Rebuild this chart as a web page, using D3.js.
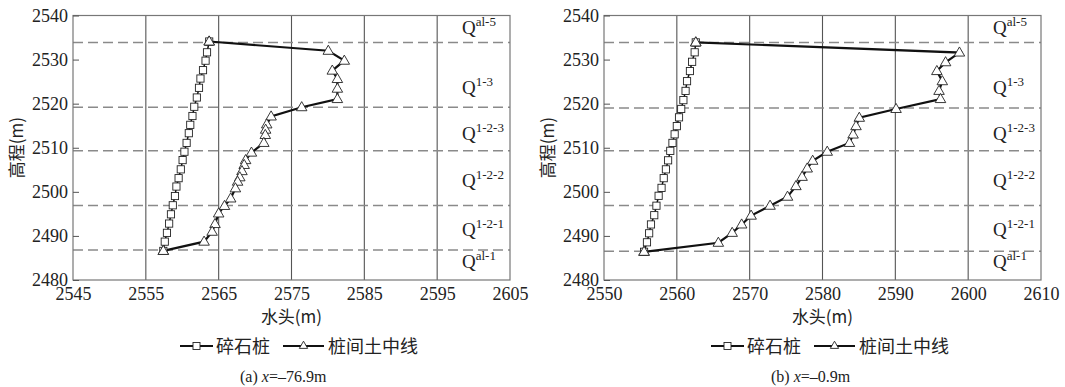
<!DOCTYPE html>
<html><head><meta charset="utf-8">
<script src="https://cdn.jsdelivr.net/npm/d3@7"></script>
<style>
body{margin:0;background:#fff;}
svg{display:block;}
</style></head>
<body>
<svg id="chart" width="1065" height="387"></svg>
<script>
// ---------- Data ----------
// Panel (a) x = -76.9 m
const pileElevA = [2534.1,2531.65,2529.75,2527.6,2525.7,2523.6,2521.4,2519.3,2517.2,2515.2,2513.3,2511.1,2509.1,2507.2,2505.1,2503.1,2501.2,2499.05,2496.95,2494.9,2492.8,2490.7,2488.7,2486.6];
const pileHeadA = [2563.7,2563.4,2563.2,2562.85,2562.5,2562.3,2562.0,2561.65,2561.4,2561.1,2560.9,2560.6,2560.3,2560.05,2559.8,2559.5,2559.2,2559.0,2558.7,2558.45,2558.2,2557.9,2557.6,2557.4];
const soilElevA = [2534.1,2532.0,2529.75,2527.5,2525.6,2523.4,2521.05,2519.2,2517.1,2515.3,2514.1,2512.9,2511.1,2508.9,2507.2,2506.1,2504.7,2503.3,2502.3,2500.8,2498.5,2496.8,2495.1,2492.7,2490.95,2488.7,2486.6];
const soilHeadA = [2563.7,2580.05,2582.25,2580.6,2581.3,2581.3,2581.3,2576.4,2572.2,2571.6,2571.45,2571.4,2571.2,2569.5,2568.7,2568.5,2568.2,2567.9,2567.6,2567.3,2566.65,2565.8,2565.0,2564.5,2564.1,2563.0,2557.4];
const boundsA = [2533.9,2519.2,2509.3,2496.9,2486.8];

// Panel (b) x = -0.9 m
const pileElevB = [2533.9,2531.65,2529.5,2527.4,2525.1,2522.9,2520.8,2518.8,2516.9,2514.9,2513.05,2511.1,2509.3,2507.15,2505.1,2503.1,2500.9,2499.1,2496.85,2494.7,2492.6,2490.6,2488.55,2486.4];
const pileHeadB = [2562.6,2562.45,2562.1,2561.8,2561.4,2561.2,2560.9,2560.6,2560.3,2560.0,2559.7,2559.4,2559.1,2558.8,2558.5,2558.2,2557.9,2557.5,2557.2,2556.9,2556.45,2556.2,2555.9,2555.5];
const soilElevB = [2533.9,2531.6,2529.4,2527.4,2525.1,2522.9,2521.05,2518.8,2516.8,2514.9,2513.0,2511.1,2509.1,2507.05,2505.3,2503.4,2501.3,2498.9,2496.85,2494.6,2492.6,2490.7,2488.45,2486.4];
const soilHeadB = [2562.6,2598.8,2596.9,2595.7,2596.45,2596.0,2596.2,2590.1,2585.05,2584.6,2584.2,2583.7,2580.65,2578.65,2577.9,2577.2,2576.35,2575.2,2572.8,2570.2,2568.9,2567.6,2565.7,2555.5];
const boundsB = [2533.9,2519.0,2509.3,2496.9,2486.5];

const xTicksA = [2545,2555,2565,2575,2585,2595,2605];
const xTicksB = [2550,2560,2570,2580,2590,2600,2610];
const yTicks = [2480,2490,2500,2510,2520,2530,2540];

const layerBase = ["Q","Q","Q","Q","Q","Q"];
const layerSup = ["al-5","1-3","1-2-3","1-2-2","1-2-1","al-1"];
const layerElev = [2535.8,2522.2,2511.8,2501.1,2490.0,2482.7];

const legendNames = ["碎石桩","桩间土中线"];
const axisTitleX = "水头(m)";
const axisTitleY = "高程(m)";
const captionsPre = ["(a) ","(b) "];
const captionsVal = ["=–76.9m","=–0.9m"];

// ---------- Drawing ----------
const svg = d3.select("#chart");
const serif = "'Liberation Serif', 'Times New Roman', serif";
const cjk = "'Noto Sans CJK SC', 'Noto Sans', sans-serif";
const W = 437, H = 264.5, TOP = 15.5;

function styleTicks(axisG){
  axisG.attr("font-family", serif).attr("font-size", 18);
  axisG.selectAll("text")
    .style("font-family", serif).style("font-size", "18px").attr("fill", "#222");
}

function drawPanel(left, xTicks, pileH, pileE, soilH, soilE, bounds, idx){
  const g = svg.append("g").attr("transform", `translate(${left},${TOP})`);
  const x = d3.scaleLinear().domain([xTicks[0], xTicks[xTicks.length-1]]).range([0, W]);
  const y = d3.scaleLinear().domain([2480, 2540]).range([H, 0]);

  // vertical grid
  g.selectAll(".vg").data(xTicks.slice(1,-1)).enter().append("line")
    .attr("x1", d=>x(d)).attr("x2", d=>x(d)).attr("y1",0).attr("y2",H)
    .attr("stroke","#555").attr("stroke-width",1.1);

  // dashed layer boundaries
  g.selectAll(".hb").data(bounds).enter().append("line")
    .attr("x1",0).attr("x2",W).attr("y1",d=>y(d)).attr("y2",d=>y(d))
    .attr("stroke","#8a8a8a").attr("stroke-width",1.5).attr("stroke-dasharray","10,5");

  // frame
  g.append("rect").attr("x",0).attr("y",0).attr("width",W).attr("height",H)
    .attr("fill","none").attr("stroke","#777").attr("stroke-width",1.2);

  // axes
  const ya = g.append("g").call(d3.axisLeft(y).tickValues(yTicks).tickFormat(d3.format("d"))
      .tickSizeInner(-6).tickSizeOuter(0).tickPadding(5));
  ya.select(".domain").remove();
  ya.selectAll("line").attr("stroke","#555");
  styleTicks(ya);

  const xa = g.append("g").attr("transform",`translate(0,${H})`)
    .call(d3.axisBottom(x).tickValues(xTicks).tickFormat(d3.format("d")).tickSize(0).tickPadding(7));
  xa.select(".domain").remove();
  styleTicks(xa);

  // layer labels
  layerSup.forEach((s,i)=>{
    const t = g.append("text").attr("x", W-48).attr("y", y(layerElev[i]))
      .attr("font-family",serif).attr("font-size",19).attr("fill","#222");
    t.append("tspan").text(layerBase[i]);
    t.append("tspan").attr("dy",-8).attr("font-size",13).text(s);
  });

  // series lines
  const pileData = pileH.map((v,i)=>[v,pileE[i]]);
  const soilData = soilH.map((v,i)=>[v,soilE[i]]);
  const line = d3.line().x(d=>x(d[0])).y(d=>y(d[1]));
  g.append("path").datum(soilData).attr("d",line).attr("fill","none")
    .attr("stroke","#111").attr("stroke-width",2.2);
  g.append("path").datum(pileData).attr("d",line).attr("fill","none")
    .attr("stroke","#111").attr("stroke-width",1.5);

  // markers
  const tri = d3.symbol().type(d3.symbolTriangle).size(48);
  g.selectAll(".tri").data(soilData).enter().append("path")
    .attr("d",tri).attr("transform",d=>`translate(${x(d[0])},${y(d[1])+0.5})`)
    .attr("fill","#fff").attr("stroke","#222").attr("stroke-width",0.9);
  g.selectAll(".sq").data(pileData.slice(1)).enter().append("rect")
    .attr("x",d=>x(d[0])-3.6).attr("y",d=>y(d[1])-3.6).attr("width",7.2).attr("height",7.2)
    .attr("fill","#fff").attr("stroke","#222").attr("stroke-width",0.9);
  g.append("rect").attr("x",x(pileData[0][0])-3.6).attr("y",y(pileData[0][1])-3.6)
    .attr("width",7.2).attr("height",7.2).attr("fill","#fff").attr("stroke","#222").attr("stroke-width",0.9);
  g.append("path").attr("d",tri).attr("transform",`translate(${x(soilData[0][0])},${y(soilData[0][1])+0.5})`)
    .attr("fill","#fff").attr("stroke","#222").attr("stroke-width",0.9);
  g.append("path").attr("d",tri).attr("transform",`translate(${x(soilData[soilData.length-1][0])},${y(soilData[soilData.length-1][1])+0.5})`)
    .attr("fill","#fff").attr("stroke","#222").attr("stroke-width",0.9);

  // axis titles
  g.append("text").attr("x",W/2).attr("y",H+43).attr("text-anchor","middle")
    .attr("font-family",cjk).attr("font-size",17).attr("fill","#222").text(axisTitleX);
  g.append("text").attr("transform",`translate(${-50},${H/2}) rotate(-90)`).attr("text-anchor","middle")
    .attr("font-family",cjk).attr("font-size",17).attr("fill","#222").text(axisTitleY);

  // legend
  const ly = 346 - TOP;
  const l1 = g.append("g").attr("transform",`translate(107,${ly})`);
  l1.append("line").attr("x1",0).attr("x2",33).attr("y1",0).attr("y2",0).attr("stroke","#111").attr("stroke-width",2.2);
  l1.append("rect").attr("x",16.5-3.5).attr("y",-3.5).attr("width",7).attr("height",7).attr("fill","#fff").attr("stroke","#222").attr("stroke-width",0.9);
  l1.append("text").attr("x",36).attr("y",6.5).attr("font-family",cjk).attr("font-size",18).attr("fill","#222").text(legendNames[0]);
  const l2 = g.append("g").attr("transform",`translate(210,${ly})`);
  l2.append("line").attr("x1",0).attr("x2",41).attr("y1",0).attr("y2",0).attr("stroke","#111").attr("stroke-width",2.2);
  l2.append("path").attr("d",d3.symbol().type(d3.symbolTriangle).size(30)).attr("transform","translate(20.5,0)")
    .attr("fill","#fff").attr("stroke","#222").attr("stroke-width",0.9);
  l2.append("text").attr("x",45).attr("y",6.5).attr("font-family",cjk).attr("font-size",18).attr("fill","#222").text(legendNames[1]);

  // caption
  const c = g.append("text").attr("x",167).attr("y",382-TOP).attr("font-family",serif).attr("font-size",16).attr("fill","#222");
  c.append("tspan").text(captionsPre[idx]);
  c.append("tspan").attr("font-style","italic").text("x");
  c.append("tspan").text(captionsVal[idx]);
}

drawPanel(73, xTicksA, pileHeadA, pileElevA, soilHeadA, soilElevA, boundsA, 0);
drawPanel(604, xTicksB, pileHeadB, pileElevB, soilHeadB, soilElevB, boundsB, 1);
</script>
</body></html>
